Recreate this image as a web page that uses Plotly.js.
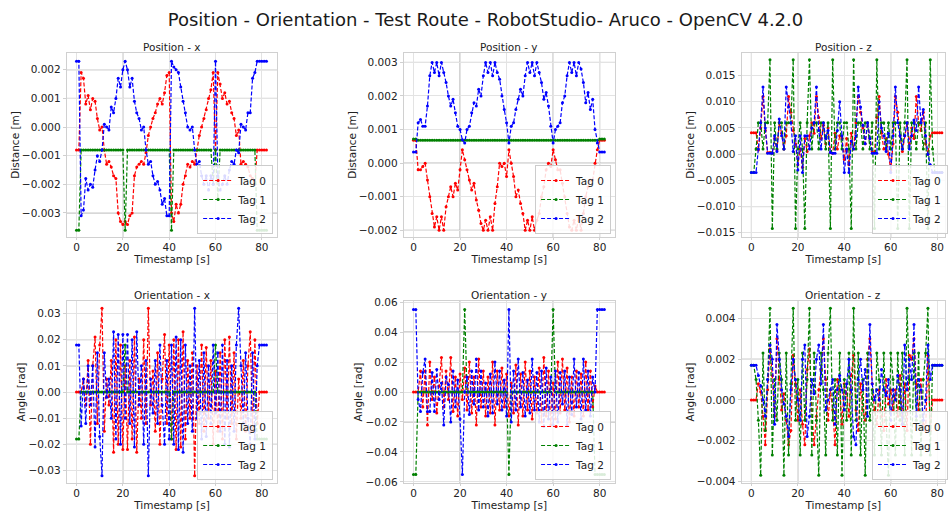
<!DOCTYPE html>
<html>
<head>
<meta charset="utf-8">
<script src="https://cdn.plot.ly/plotly-3.0.1.min.js"></script>
<style>
  html, body { margin: 0; padding: 0; background: #ffffff; }
  #chart { width: 948px; height: 511px; }
</style>
</head>
<body>
<div id="chart"></div>
<script>
// Sample timestamps [s]
const timestamps = [0,1,2,3,4,5,6,7,8,9,10,11,12,13,14,15,16,17,18,19,20,21,22,23,24,25,26,27,28,29,30,31,32,33,34,35,36,37,38,39,40,41,42,43,44,45,46,47,48,49,50,51,52,53,54,55,56,57,58,59,60,61,62,63,64,65,66,67,68,69,70,71,72,73,74,75,76,77,78,79,80,81,82];
const tagNames = ['Tag 0', 'Tag 1', 'Tag 2'];

// Position x [m]
const posX_tag0 = [-0.0008,-0.0008,0.0019,0.0017,0.0008,0.0011,0.0006,0.0010,0.0009,0.0003,-0.0001,0.0000,-0.0008,-0.0013,-0.0012,-0.0014,-0.0017,-0.0018,-0.0030,-0.0033,-0.0034,-0.0033,-0.0034,-0.0031,-0.0030,-0.0017,-0.0014,-0.0013,-0.0012,-0.0013,-0.0009,-0.0003,0.0000,0.0003,0.0005,0.0008,0.0010,0.0008,0.0012,0.0018,0.0019,-0.0030,-0.0033,-0.0027,-0.0030,-0.0027,-0.0020,-0.0017,-0.0013,-0.0014,-0.0012,-0.0013,-0.0008,-0.0003,0.0000,0.0003,0.0006,0.0010,0.0013,0.0019,-0.0008,0.0019,0.0015,0.0010,0.0012,0.0008,0.0009,0.0005,0.0003,-0.0003,-0.0001,-0.0013,-0.0012,-0.0013,-0.0014,-0.0017,-0.0018,-0.0020,-0.0008,-0.0008,-0.0008,-0.0008,-0.0008];
const posX_tag1 = [-0.0036,-0.0036,-0.0008,-0.0008,-0.0008,-0.0008,-0.0008,-0.0008,-0.0008,-0.0008,-0.0008,-0.0008,-0.0008,-0.0008,-0.0008,-0.0008,-0.0008,-0.0008,-0.0008,-0.0008,-0.0008,-0.0036,-0.0008,-0.0008,-0.0008,-0.0008,-0.0008,-0.0008,-0.0008,-0.0008,-0.0008,-0.0008,-0.0008,-0.0008,-0.0008,-0.0008,-0.0008,-0.0008,-0.0008,-0.0008,-0.0008,-0.0036,-0.0008,-0.0008,-0.0008,-0.0008,-0.0008,-0.0008,-0.0008,-0.0008,-0.0008,-0.0008,-0.0008,-0.0008,-0.0008,-0.0008,-0.0008,-0.0008,-0.0008,-0.0020,-0.0008,-0.0025,-0.0008,-0.0008,-0.0008,-0.0008,-0.0008,-0.0008,-0.0008,-0.0008,-0.0008,-0.0008,-0.0008,-0.0008,-0.0008,-0.0008,-0.0008,-0.0008,-0.0036,-0.0036,-0.0036,-0.0036,-0.0036];
const posX_tag2 = [0.0023,0.0023,-0.0031,-0.0029,-0.0018,-0.0022,-0.0020,-0.0021,-0.0015,-0.0010,-0.0012,-0.0008,0.0001,0.0000,-0.0001,0.0007,0.0005,0.0010,0.0017,0.0014,0.0020,0.0023,0.0020,0.0014,0.0017,0.0009,0.0005,0.0003,-0.0001,0.0000,-0.0008,-0.0013,-0.0012,-0.0017,-0.0020,-0.0019,-0.0022,-0.0027,-0.0025,-0.0031,-0.0031,0.0023,0.0021,0.0020,0.0019,0.0014,0.0009,0.0005,0.0000,-0.0001,0.0000,-0.0008,-0.0013,-0.0012,-0.0017,-0.0020,-0.0017,-0.0022,-0.0017,-0.0020,0.0023,-0.0017,-0.0022,-0.0020,-0.0017,-0.0020,-0.0015,-0.0012,-0.0013,-0.0008,-0.0009,0.0001,0.0000,-0.0001,0.0005,0.0005,0.0017,0.0019,0.0023,0.0023,0.0023,0.0023,0.0023];

// Position y [m]
const posY_tag0 = [0.00068,0.00068,-0.0002,-0.0002,-0.0001,0.0000,-0.0005,-0.0010,-0.0015,-0.0019,-0.0016,-0.0020,-0.0016,-0.0020,-0.0013,-0.0010,-0.0007,-0.0010,-0.0006,-0.0008,-0.0002,0.0004,0.0001,-0.0002,-0.0005,-0.0008,-0.0006,-0.0011,-0.0014,-0.0018,-0.0020,-0.0017,-0.0020,-0.0016,-0.0020,-0.0012,-0.0007,0.0000,-0.0001,0.0000,-0.0004,0.0004,0.0000,-0.0004,-0.0010,-0.0008,-0.0012,-0.0015,-0.0020,-0.0017,-0.0020,-0.0016,-0.0020,-0.0017,-0.0015,-0.0010,-0.0007,-0.0002,0.0000,-0.0001,0.0004,0.0001,-0.0002,-0.0002,-0.0006,-0.0010,-0.0015,-0.0019,-0.0020,-0.0017,-0.0020,-0.0016,-0.0020,-0.0015,-0.0010,-0.0007,-0.0005,-0.0005,0.0000,0.0004,0.00068,0.00068,0.00068];
const posY_tag1 = [0.00072,0.00072,0.00068,0.00068,0.00068,0.00068,0.00068,0.00068,0.00068,0.00068,0.00068,0.00068,0.00068,0.00068,0.00068,0.00068,0.00068,0.00068,0.00068,0.00068,0.00068,0.00068,0.00068,0.00068,0.00068,0.00068,0.00068,0.00068,0.00068,0.00068,0.00068,0.00068,0.00068,0.00068,0.00068,0.00068,0.00068,0.00068,0.00068,0.00068,0.00068,0.00068,0.00068,0.00068,0.00068,0.00068,0.00068,0.00068,0.00068,0.00068,0.00068,0.00068,0.00068,0.00068,0.00068,0.00068,0.00068,0.00068,0.00068,0.00068,0.00068,0.00068,0.00068,0.00068,0.00068,0.00068,0.00068,0.00068,0.00068,0.00068,0.00068,0.00068,0.00068,0.00068,0.00068,0.00068,0.00068,0.00068,0.00068,0.00068,0.00072,0.00072,0.00072];
const posY_tag2 = [0.00033,0.00033,0.0012,0.0013,0.0011,0.0011,0.0017,0.0026,0.0030,0.0027,0.0030,0.0026,0.0030,0.0027,0.0024,0.0020,0.0017,0.0019,0.0015,0.0011,0.0010,0.0007,0.0006,0.0010,0.0011,0.0015,0.0018,0.0017,0.0022,0.0020,0.0026,0.0030,0.0027,0.0030,0.0026,0.0030,0.0027,0.0025,0.0020,0.0016,0.0012,0.0006,0.0011,0.0012,0.0016,0.0019,0.0022,0.0020,0.0026,0.0030,0.0027,0.0030,0.0026,0.0030,0.0027,0.0024,0.0019,0.0021,0.0017,0.0011,0.0006,0.0010,0.0011,0.0012,0.0018,0.0020,0.0026,0.0030,0.0027,0.0030,0.0026,0.0030,0.0028,0.0024,0.0018,0.0021,0.0016,0.0019,0.0010,0.0006,0.00033,0.00033,0.00033];

// Position z [m]
const posZ_tag0 = [0.0041,0.0041,0.0041,0.0008,0.0050,0.0110,0.0045,0.0003,0.0003,0.0002,0.0030,0.0008,0.0060,0.0040,0.0010,0.0035,0.0110,0.0080,0.0045,0.0020,-0.0020,0.0010,-0.0025,0.0030,0.0005,0.0035,0.0060,0.0040,0.0110,0.0070,0.0030,0.0055,0.0020,0.0050,0.0003,0.0002,0.0040,0.0010,0.0035,0.0030,-0.0010,0.0030,-0.0020,0.0040,0.0010,0.0060,0.0110,0.0080,0.0050,0.0020,0.0060,0.0030,0.0005,0.0003,0.0070,0.0110,0.0040,0.0010,0.0030,0.0000,-0.0030,0.0020,0.0110,0.0080,0.0035,0.0005,0.0035,0.0060,0.0020,0.0050,0.0030,0.0110,0.0060,0.0045,0.0080,0.0020,0.0000,0.0035,0.0041,0.0041,0.0041,0.0041,0.0041];
const posZ_tag1 = [-0.0035,-0.0035,0.0010,0.0060,0.0060,0.0010,0.0060,0.0060,0.0180,-0.0142,0.0060,0.0010,0.0060,0.0060,0.0010,0.0060,0.0060,0.0060,0.0180,-0.0142,0.0010,0.0060,0.0010,-0.0142,0.0060,0.0180,0.0010,0.0060,0.0060,0.0010,0.0060,0.0060,0.0010,0.0060,-0.0142,0.0180,0.0010,0.0060,0.0060,0.0010,0.0060,0.0060,0.0010,-0.0142,0.0180,0.0010,0.0060,0.0060,0.0010,0.0060,0.0060,0.0010,0.0060,-0.0142,0.0180,0.0010,0.0060,0.0060,0.0010,0.0060,0.0010,0.0060,0.0060,-0.0142,0.0060,0.0010,0.0060,0.0180,-0.0142,0.0060,0.0060,0.0010,0.0060,0.0060,0.0010,0.0060,-0.0142,0.0180,0.0010,-0.0035,-0.0035,-0.0035,-0.0035];
const posZ_tag2 = [-0.0035,-0.0035,-0.0035,0.0010,0.0060,0.0128,0.0050,0.0002,0.0002,0.0002,0.0035,0.0005,0.0067,0.0035,0.0010,0.0128,0.0090,0.0060,0.0005,0.0035,-0.0030,0.0035,-0.0035,0.0035,0.0035,0.0010,0.0050,0.0060,0.0128,0.0045,0.0010,0.0060,0.0030,0.0045,0.0003,0.0002,0.0002,0.0045,0.0100,0.0035,-0.0035,0.0010,-0.0035,0.0025,0.0010,0.0035,0.0128,0.0090,0.0055,0.0020,0.0060,0.0030,0.0002,0.0002,0.0002,0.0100,0.0050,0.0035,0.0005,0.0040,-0.0035,0.0035,0.0128,0.0060,0.0035,0.0010,0.0035,0.0060,0.0010,0.0035,0.0065,0.0045,0.0128,0.0060,0.0085,0.0035,0.0000,-0.0020,-0.0035,-0.0035,-0.0035,-0.0035,-0.0035];

// Orientation x [rad]
const oriX_tag0 = [0,0,0,0.005,-0.005,0.012,-0.020,0.010,0.021,-0.012,0.018,0.032,-0.015,0.005,-0.005,0.012,-0.023,0.020,-0.020,0.018,-0.022,0.010,-0.022,0.012,-0.018,0.021,-0.023,0.005,-0.010,0.020,-0.012,0.032,-0.005,0.008,-0.015,0.015,-0.020,0.005,0.022,-0.012,0.018,-0.018,0.020,-0.022,0.020,-0.021,0.023,-0.018,0.012,-0.010,0.015,-0.032,0.010,-0.012,0.018,-0.015,0.017,-0.010,0.012,-0.020,0.008,-0.015,0.015,-0.018,0.020,-0.010,0.021,-0.012,0.015,-0.018,0.005,-0.010,0.012,-0.015,0.010,0.023,-0.015,0.020,-0.012,0,0,0,0];
const oriX_tag1 = [-0.018,-0.018,0,0,0,0,0,0,0,0,0,0,0,0,0,0,0,0,0,0,0,0.018,0,0,0,0,0,0,0,0,0,0,0,0,0,0,0,0,0,0,0,-0.018,0,0,0,0,0,0,0,0,0,0,0,0,0,0,0,0,0,0,0.018,0,0,0,0,0,0,0,0,0,0,0,0,0,0,0,0,0,-0.018,-0.018,-0.018,-0.018,-0.018];
const oriX_tag2 = [0.018,0.018,-0.013,0.005,-0.012,0.010,-0.005,0.010,-0.021,0.015,-0.017,-0.032,0.015,-0.002,0.005,-0.010,0.023,-0.018,0.022,-0.020,0.022,-0.010,0.022,-0.012,0.020,-0.021,0.023,-0.005,0.010,-0.020,0.012,-0.032,0.005,-0.008,0.012,-0.012,0.018,-0.005,-0.020,0.012,-0.018,0.018,-0.020,0.021,-0.022,0.020,-0.023,0.018,-0.012,0.010,-0.015,0.032,-0.010,0.012,-0.018,0.015,-0.017,0.010,-0.012,0.018,-0.008,0.015,-0.015,0.018,-0.020,0.012,-0.021,0.010,-0.015,0.018,0.032,0.010,-0.012,0.015,-0.010,-0.020,0.015,-0.018,0.010,0.018,0.018,0.018,0.018];

// Orientation y [rad]
const oriY_tag0 = [0,0,0,0.014,-0.010,0.014,-0.022,0.020,-0.005,0.010,-0.014,0.004,0.023,-0.010,0.014,-0.005,0.023,-0.013,0.010,-0.016,0.012,-0.005,0.016,-0.012,0.020,-0.014,0.010,-0.022,0.022,-0.010,0.014,-0.016,0.010,-0.014,0.020,-0.022,0.014,-0.012,0.016,-0.010,0.012,-0.016,0.006,-0.014,0.018,-0.022,0.012,-0.016,0.020,-0.012,0.014,-0.018,0.010,-0.014,0.016,-0.020,0.023,-0.016,0.014,-0.022,0.006,-0.018,0.020,-0.014,0.022,-0.012,0.016,-0.020,0.010,-0.016,0.014,-0.010,0.012,-0.016,0.020,-0.012,0.014,-0.010,0.004,0,0,0,0];
const oriY_tag1 = [-0.055,-0.055,0,0,0,0,0,0,0,0,0,0,0,0,0,0,0,0,0,0,0,0,0.055,0,0,0,0,0,0,0,0,0,0,0,0,0,0,0,0,0,0,-0.055,0,0,0,0,0,0,0,0,0,0,0,0,0,0,0,0,0,0,0.055,0,0,0,0,0,0,0,0,0,0,0,0,0,0,0,0,0,-0.055,-0.055,-0.055,-0.055,-0.055];
const oriY_tag2 = [0.055,0.055,-0.005,-0.013,0.013,0.022,-0.013,-0.013,0.013,-0.013,0.015,-0.005,0.006,-0.022,0.010,0.005,-0.020,0.014,-0.010,0.008,-0.018,-0.055,0.000,0.010,-0.015,0.014,-0.008,0.022,-0.012,0.014,-0.010,0.006,-0.016,0.012,-0.014,0.020,-0.008,0.014,-0.012,0.008,-0.016,0.055,-0.020,0.014,-0.012,0.022,-0.010,0.013,-0.016,0.008,-0.014,0.022,-0.012,0.013,-0.020,0.014,-0.023,0.016,-0.018,0.010,-0.022,0.014,-0.020,0.013,-0.008,0.014,-0.022,0.010,-0.015,0.022,-0.010,0.013,-0.018,0.022,-0.012,0.014,-0.016,0.010,0.000,0.055,0.055,0.055,0.055];

// Orientation z [rad]
const oriZ_tag0 = [0,0,0,0.0008,0.0004,-0.0008,-0.0022,0.0005,0.0025,0.0012,-0.0008,0.0030,0.0010,-0.0005,0.0003,-0.0010,-0.0022,-0.0015,0.0022,0.0008,-0.0010,0.0005,-0.0012,-0.0022,0.0015,0.0025,-0.0005,-0.0022,-0.0008,0.0005,0.0015,0.0030,0.0010,-0.0010,0.0005,-0.0005,-0.0022,0.0010,0.0005,-0.0012,0.0008,0.0003,-0.0008,0.0012,0.0022,-0.0005,-0.0015,0.0008,-0.0005,-0.0010,0.0020,0.0030,0.0008,-0.0005,-0.0012,0.0005,-0.0008,-0.0015,0.0010,-0.0002,0.0005,-0.0005,0.0005,-0.0008,0.0012,-0.0012,0.0008,-0.0015,0.0022,0.0020,0.0030,0.0008,-0.0005,0.0010,-0.0012,-0.0015,0.0022,-0.0015,0.0000,0,0,0,0];
const oriZ_tag1 = [0.0017,0.0017,0.0010,-0.0010,-0.0037,0.0023,-0.0015,0.0010,0.0045,-0.0027,0.0010,-0.0010,0.0023,0.0010,-0.0037,0.0023,-0.0027,0.0008,0.0045,-0.0010,0.0010,-0.0027,0.0023,-0.0010,0.0010,0.0045,-0.0027,0.0023,-0.0010,-0.0037,0.0023,0.0005,-0.0027,0.0023,0.0045,-0.0010,0.0010,-0.0027,0.0023,-0.0037,0.0010,-0.0010,0.0023,-0.0027,0.0045,-0.0010,0.0023,-0.0027,0.0010,-0.0037,0.0023,-0.0010,0.0005,-0.0027,0.0023,0.0010,-0.0027,0.0023,-0.0010,-0.0037,0.0023,0.0010,-0.0027,0.0023,-0.0010,0.0023,-0.0027,0.0045,0.0010,-0.0027,0.0023,-0.0010,0.0023,-0.0027,0.0010,0.0023,0.0045,-0.0027,0.0017,0.0017,0.0017,0.0017,0.0017];
const oriZ_tag2 = [0.0017,0.0017,0.0017,0.0012,0.0007,0.0000,-0.0008,0.0010,0.0027,0.0020,-0.0012,0.0037,0.0020,0.0005,-0.0002,-0.0008,-0.0018,0.0005,0.0020,0.0010,0.0000,-0.0010,0.0020,0.0027,-0.0018,-0.0008,0.0010,0.0003,0.0020,0.0027,0.0008,0.0037,-0.0005,0.0000,0.0005,0.0010,-0.0012,0.0005,0.0012,0.0005,-0.0005,0.0008,0.0020,0.0005,-0.0018,-0.0022,0.0010,0.0020,0.0005,0.0015,-0.0008,0.0037,0.0008,0.0000,0.0005,0.0000,0.0015,0.0005,0.0002,0.0010,-0.0010,0.0005,0.0000,0.0012,0.0005,-0.0012,0.0027,0.0005,0.0020,0.0010,0.0037,-0.0008,0.0010,0.0005,-0.0010,0.0000,0.0027,0.0010,0.0017,0.0017,0.0017,0.0017,0.0017];

// ---- styling ----
const W = 948, H = 511;
const MB = 28;                       // bottom margin keeps the lower x-axis titles clear
const PH = H - MB;                   // height of the paper area
const FONT = 'DejaVu Sans, Liberation Sans, sans-serif';
const TEXT_COLOR = '#222222';
const tagColors = ['#ff0000', '#008000', '#0000ff'];

// plot-area rectangles in pixels: columns (left, right) and rows (top, bottom)
const colPx = [[67, 278], [405, 617], [744, 955]];
const rowPx = [[53, 237], [301, 483]];
const xRanges = [[-4.2, 86.6], [-4.2, 86.6], [-4.2, 83.35]];

const panels = [
  { title: 'Position - x', yTitle: 'Distance [m]', series: [posX_tag0, posX_tag1, posX_tag2],
    yRange: [-0.00384, 0.002585], dtick: 0.001, fmt: '.3f', row: 0, col: 0,
    darkX: [20, 60], darkY: [0.002, 0.001, -0.003] },
  { title: 'Position - y', yTitle: 'Distance [m]', series: [posY_tag0, posY_tag1, posY_tag2],
    yRange: [-0.0022, 0.00328], dtick: 0.001, fmt: '.3f', row: 0, col: 1,
    darkX: [20, 60, 80], darkY: [0.003, 0.0, -0.002] },
  { title: 'Position - z', yTitle: 'Distance [m]', series: [posZ_tag0, posZ_tag1, posZ_tag2],
    yRange: [-0.0158, 0.0193], dtick: 0.005, fmt: '.3f', row: 0, col: 2,
    darkX: [0, 20, 60], darkY: [0.0, -0.005, -0.010] },
  { title: 'Orientation - x', yTitle: 'Angle [rad]', series: [oriX_tag0, oriX_tag1, oriX_tag2],
    yRange: [-0.0348, 0.0348], dtick: 0.01, fmt: '.2f', row: 1, col: 0,
    darkX: [20, 60], darkY: [0.02, 0.01, -0.02] },
  { title: 'Orientation - y', yTitle: 'Angle [rad]', series: [oriY_tag0, oriY_tag1, oriY_tag2],
    yRange: [-0.0607, 0.0607], dtick: 0.02, fmt: '.2f', row: 1, col: 1,
    darkX: [20, 60], darkY: [0.04, -0.02] },
  { title: 'Orientation - z', yTitle: 'Angle [rad]', series: [oriZ_tag0, oriZ_tag1, oriZ_tag2],
    yRange: [-0.00408, 0.00486], dtick: 0.002, fmt: '.3f', row: 1, col: 2,
    darkX: [0, 20, 60], darkY: [0.004, 0.002] }
];

const axisFont = { family: FONT, size: 10.5, color: TEXT_COLOR };
const traces = [];
const shapes = [];
const annotations = [];
const layout = {
  width: W, height: H,
  margin: { l: 0, r: 0, t: 0, b: MB },
  paper_bgcolor: '#ffffff', plot_bgcolor: '#ffffff',
  showlegend: true,
  font: { family: FONT, color: TEXT_COLOR },
  title: {
    text: 'Position - Orientation - Test Route - RobotStudio- Aruco - OpenCV 4.2.0',
    font: { family: FONT, size: 18, color: '#1a1a1a' },
    x: 485.5 / W, xanchor: 'center', xref: 'container',
    y: 1 - 20 / H, yanchor: 'middle', yref: 'container'
  }
};

const yPaper = py => (H - MB - py) / PH;

panels.forEach((p, i) => {
  const n = i === 0 ? '' : String(i + 1);
  const xa = 'x' + n, ya = 'y' + n, lg = 'legend' + n;
  const [cl, cr] = colPx[p.col];
  const [rt, rb] = rowPx[p.row];

  layout['xaxis' + n] = {
    domain: [cl / W, Math.min(cr / W, 1)], range: xRanges[p.col], anchor: ya,
    tick0: 0, dtick: 20, showgrid: true, gridcolor: '#e3e3e3', gridwidth: 1,
    zeroline: false, showline: true, linecolor: '#d0d0d0', linewidth: 1, mirror: true,
    ticks: 'outside', ticklen: 2, tickcolor: '#d0d0d0', tickfont: axisFont,
    ticklabelstandoff: -2,
    title: { text: 'Timestamp [s]', font: axisFont, standoff: 0 }
  };
  layout['yaxis' + n] = {
    domain: [yPaper(rb), yPaper(rt)], range: p.yRange, anchor: xa,
    tick0: 0, dtick: p.dtick, tickformat: p.fmt, showgrid: true, gridcolor: '#e3e3e3', gridwidth: 1,
    zeroline: false, showline: true, linecolor: '#d0d0d0', linewidth: 1, mirror: true,
    ticks: 'outside', ticklen: 3, tickcolor: '#d0d0d0', tickfont: axisFont,
    title: { text: p.yTitle, font: axisFont, standoff: 0 }
  };
  layout[lg] = {
    x: (cr - 4) / W, y: yPaper(rb - 3), xanchor: 'right', yanchor: 'bottom',
    xref: 'paper', yref: 'paper',
    bgcolor: 'rgba(255,255,255,0.85)', bordercolor: '#cccccc', borderwidth: 1,
    font: { family: FONT, size: 10.5, color: TEXT_COLOR },
    itemwidth: 30, traceorder: 'normal', tracegroupgap: 0
  };

  annotations.push({
    text: p.title, showarrow: false, xref: xa + ' domain', yref: ya + ' domain',
    x: 0.5, y: 1, xanchor: 'center', yanchor: 'bottom', yshift: -2,
    font: { family: FONT, size: 10.5, color: TEXT_COLOR }
  });

  p.darkX.forEach(v => shapes.push({
    type: 'line', xref: xa, yref: ya + ' domain', x0: v, x1: v, y0: 0, y1: 1,
    line: { color: '#a4a4a4', width: 1 }, layer: 'below'
  }));
  p.darkY.forEach(v => shapes.push({
    type: 'line', xref: xa + ' domain', yref: ya, x0: 0, x1: 1, y0: v, y1: v,
    line: { color: '#a4a4a4', width: 1 }, layer: 'below'
  }));

  p.series.forEach((vals, k) => {
    traces.push({
      type: 'scatter', mode: 'lines+markers',
      x: timestamps, y: vals, xaxis: xa, yaxis: ya, legend: lg,
      name: tagNames[k],
      line: { color: tagColors[k], width: 1.2, dash: '4px,2px' },
      marker: { color: tagColors[k], size: 3 },
      hoverinfo: 'skip'
    });
  });
});

layout.shapes = shapes;
layout.annotations = annotations;

Plotly.newPlot('chart', traces, layout, { staticPlot: true, displayModeBar: false });
</script>
</body>
</html>
